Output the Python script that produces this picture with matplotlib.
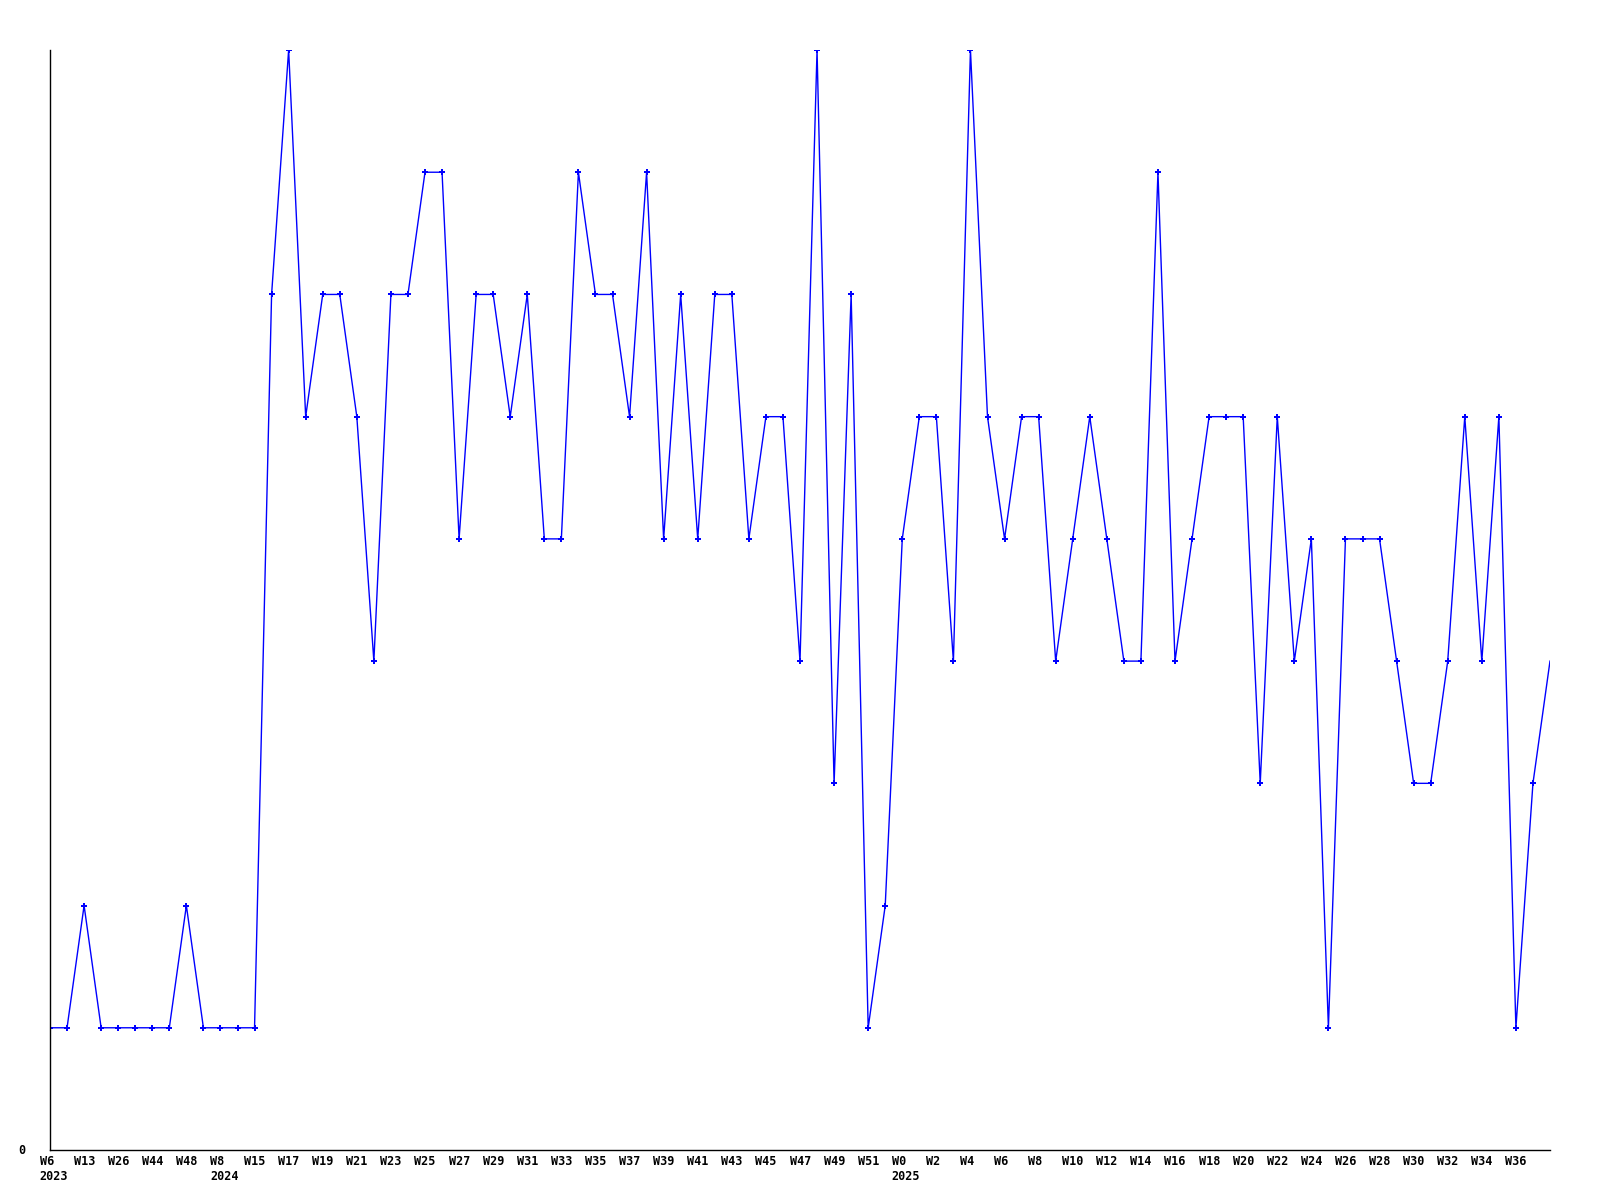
import matplotlib
matplotlib.use("Agg")
import matplotlib.pyplot as plt
import matplotlib.transforms as mtransforms

# weekly values (one per week, 89 points)
values = [1, 1, 2, 1, 1, 1, 1, 1, 2, 1, 1, 1, 1,
          7, 9, 6, 7, 7, 6, 4, 7, 7, 8, 8, 5, 7, 7, 6, 7, 5, 5, 8, 7, 7, 6, 8,
          5, 7, 5, 7, 7, 5, 6, 6, 4, 9, 3, 7, 1, 2,
          5, 6, 6, 4, 9, 6, 5, 6, 6, 4, 5, 6, 5, 4, 4, 8, 4, 5, 6, 6, 6, 3,
          6, 4, 5, 1, 5, 5, 5, 4, 3, 3, 4, 6, 4, 6, 1, 3, 4]

# labels shown on every second point
week_labels = ["W6", "W13", "W26", "W44", "W48", "W8", "W15", "W17", "W19", "W21",
               "W23", "W25", "W27", "W29", "W31", "W33", "W35", "W37", "W39", "W41",
               "W43", "W45", "W47", "W49", "W51", "W0", "W2", "W4", "W6", "W8",
               "W10", "W12", "W14", "W16", "W18", "W20", "W22", "W24", "W26", "W28",
               "W30", "W32", "W34", "W36"]
year_labels = {0: "2023", 5: "2024", 25: "2025"}  # index into week_labels

BLUE = "#0000ff"
FONT = dict(family="DejaVu Sans Mono", weight="bold", fontsize=8.5)

fig = plt.figure(figsize=(16, 12), dpi=100)
ax = fig.add_axes([50 / 1600, 50 / 1200, 1500 / 1600, 1100 / 1200])

x = list(range(len(values)))
ax.plot(x, values, color=BLUE, linewidth=1.0)
ax.plot(x[:-1], values[:-1], linestyle="none", marker="P", markersize=5,
        color=BLUE, markeredgewidth=0)

ax.set_xlim(0, len(values) - 1)
ax.set_ylim(0, 9)

for side in ["top", "right"]:
    ax.spines[side].set_visible(False)
ax.spines["left"].set_linewidth(1.0)
ax.spines["bottom"].set_linewidth(1.0)

ax.set_xticks([])
ax.set_yticks([])

# x labels, left aligned a little before each point
trans = mtransforms.blended_transform_factory(ax.transData, ax.transAxes)
shift = mtransforms.ScaledTranslation(-10.5 / 100, 0, fig.dpi_scale_trans)
for i, lab in enumerate(week_labels):
    ax.text(2 * i, -0.0105, lab, transform=trans + shift, ha="left", va="center", **FONT)
    if i in year_labels:
        ax.text(2 * i, -0.0245, year_labels[i], transform=trans + shift,
                ha="left", va="center", **FONT)

# only the zero label on the y axis
fig.text(25 / 1600, 1 - 1150 / 1200, "0", ha="right", va="center", **FONT)

fig.savefig("out.png", dpi=100, facecolor="white")
